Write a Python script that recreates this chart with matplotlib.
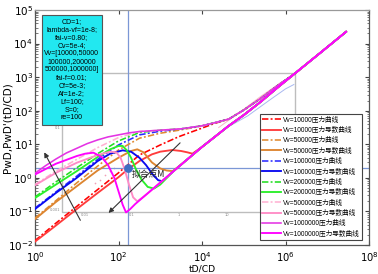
import numpy as np
import matplotlib
matplotlib.use('Agg')
import matplotlib.pyplot as plt
from matplotlib.patches import Rectangle
from matplotlib.font_manager import FontProperties
from matplotlib.ticker import FixedLocator, LogLocator, NullFormatter

# ---------------- data (log10 tD/CD , log10 value) ----------------
vv_labels = ['10000', '50000', '100000', '200000', '500000', '1000000']

late_p_lx = [2.5, 3.0, 3.5, 4.0, 4.3, 4.64, 5.0, 5.4, 5.8, 6.23, 6.8, 7.45]
late_p_ly = [1.38, 1.42, 1.46, 1.55, 1.64, 1.75, 2.02, 2.36, 2.74, 3.115, 3.69, 4.35]
late_d_lx = [2.4, 2.7, 3.0, 3.3, 3.6, 4.0, 4.64, 5.0, 5.4, 5.8, 6.23, 6.8, 7.45]
late_d_ly = [-0.78, -0.46, -0.14, 0.18, 0.5, 0.92, 1.55, 1.87, 2.26, 2.68, 3.115, 3.69, 4.35]

red_p_lx = [0, 0.5, 1.0, 1.5, 2.0, 2.5, 3.0, 3.45, 3.93, 4.3]
red_p_ly = [-1.87, -1.35, -0.85, -0.35, 0.15, 0.68, 0.98, 1.23, 1.45, 1.62]
red_d_lx = [0, 0.5, 1.0, 1.5, 2.0, 2.22, 2.5, 2.8, 3.0, 3.29, 3.5, 3.65, 3.77]
red_d_ly = [-1.9, -1.42, -0.93, -0.45, 0.02, 0.25, 0.5, 0.7, 0.78, 0.83, 0.8, 0.76, 0.72]

orange_p_lx = [0, 0.5, 1.0, 1.5, 2.0, 2.5, 3.0, 3.45, 3.8]
orange_p_ly = [-1.2, -0.68, -0.15, 0.35, 0.83, 1.18, 1.33, 1.42, 1.5]
orange_d_lx = [0, 0.5, 1.0, 1.5, 2.0, 2.3, 2.45, 2.6, 2.8, 3.0, 3.15, 3.3]
orange_d_ly = [-1.23, -0.72, -0.25, 0.22, 0.6, 0.8, 0.85, 0.76, 0.46, 0.28, 0.22, 0.2]

blue_p_lx = [0, 0.5, 1.0, 1.5, 2.0, 2.5, 3.0, 3.5]
blue_p_ly = [-0.9, -0.42, 0.05, 0.55, 0.98, 1.28, 1.39, 1.46]
blue_d_lx = [0, 0.5, 1.0, 1.5, 1.8, 2.1, 2.3, 2.5, 2.66, 2.82, 2.95, 3.05]
blue_d_ly = [-0.93, -0.45, 0.0, 0.5, 0.72, 0.82, 0.78, 0.6, 0.38, 0.1, -0.07, -0.1]

green_p_lx = [0, 0.5, 1.0, 1.5, 2.0, 2.5, 3.0]
green_p_ly = [-0.57, -0.12, 0.3, 0.72, 1.1, 1.35, 1.42]
green_d_lx = [0, 0.5, 1.0, 1.5, 1.8, 2.0, 2.1, 2.2, 2.3, 2.42, 2.55, 2.7, 2.85, 3.0]
green_d_ly = [-0.6, -0.2, 0.2, 0.62, 0.85, 0.95, 0.95, 0.82, 0.6, 0.25, -0.05, -0.27, -0.32, -0.2]

pink_p_lx = [0, 0.5, 1.0, 1.5, 2.0]
pink_p_ly = [-0.2, 0.2, 0.55, 0.9, 1.2]
pink_d_lx = [0, 0.5, 1.0, 1.5, 1.8, 1.95, 2.05, 2.15, 2.25, 2.35, 2.45, 2.6]
pink_d_ly = [-0.22, 0.15, 0.45, 0.68, 0.78, 0.76, 0.6, 0.25, -0.2, -0.58, -0.7, -0.56]

mag_p_lx = [0, 0.25, 0.5, 0.75, 1.0, 1.25, 1.5, 1.75, 2.0, 2.25]
mag_p_ly = [0.14, 0.36, 0.56, 0.74, 0.88, 1.02, 1.13, 1.22, 1.28, 1.34]
mag_d_lx = [0, 0.5, 1.0, 1.2, 1.4, 1.6, 1.75, 1.9, 2.0, 2.1, 2.18, 2.28]
mag_d_ly = [0.1, 0.42, 0.65, 0.72, 0.75, 0.62, 0.38, 0.0, -0.4, -0.8, -1.03, -0.93]

# faint curves of the overlaid field plot
faint_pink_lx = [4.4, 4.9, 5.4, 5.9, 6.15]
faint_pink_ly = [1.5, 1.95, 2.42, 2.85, 3.0]
faint_blue_lx = [4.6, 5.1, 5.6, 6.0, 6.2]
faint_blue_ly = [1.5, 1.85, 2.3, 2.65, 2.78]
faint_dots_lx = [1.43, 1.55, 1.67, 1.79, 1.9]
faint_dots_ly = [-0.15, -0.05, 0.1, 0.2, 0.28]
inset_frame_lx = [0.643, 0.643, 6.238, 6.238, 0.643]
inset_frame_ly = [1.6, -1.012, -1.012, 3.125, 3.125]
inset_xt_lx = [1.19, 2.31, 3.45, 4.6, 5.71]
inset_xt_txt = ['0.01', '0.1', '1', '10', '100']
inset_yt_ly = [1.49, -0.95]
inset_yt_txt = ['0.1', '0.001']

match_x, match_y = 166.0, 1.95

params_text = ("CD=1;\nlambda-vf=1e-8;\nfai-v=0.80;\nCv=5e-4;\nVv=[10000,50000\n"
               "100000,200000\n500000,1000000]\nfai-f=0.01;\nCf=5e-3;\nAf=1e-2;\n"
               "Lf=100;\nS=0;\nre=100")

# ---------------- figure ----------------
plt.rcParams['font.family'] = ['DejaVu Sans', 'Noto Sans CJK SC']
fig = plt.figure(figsize=(3.78, 2.74), dpi=100)
ax = fig.add_axes([35/378, 29/274, 334/378, 235/274])
ax.set_xscale('log'); ax.set_yscale('log')
ax.set_xlim(1, 1e8); ax.set_ylim(1e-2, 1e5)

def p10(a):
    return 10 ** np.asarray(a, dtype=float)

# background overlay elements
ax.plot(p10(inset_frame_lx), p10(inset_frame_ly), color='#bdbdbd', lw=1.0, zorder=1)
for lx, t in zip(inset_xt_lx, inset_xt_txt):
    ax.text(10**lx, 10**-1.06, t, fontsize=2.6, color='#888888', ha='center', va='top', zorder=1)
for ly, t in zip(inset_yt_ly, inset_yt_txt):
    ax.text(10**0.6, 10**ly, t, fontsize=2.6, color='#888888', ha='right', va='center', zorder=1)
ax.plot(p10(faint_pink_lx), p10(faint_pink_ly), color='#f6b6c6', lw=0.7, zorder=1)
ax.plot(p10(faint_blue_lx), p10(faint_blue_ly), color='#a8b8f0', lw=0.7, zorder=1)
ax.scatter(p10(faint_dots_lx), p10(faint_dots_ly), s=1.5, color='#f0a0b8', zorder=1, lw=0)

# match lines
ax.axvline(match_x, color='#7b97d6', lw=0.9, zorder=2)
ax.axhline(match_y, color='#7b97d6', lw=0.9, zorder=2)

def full(elx, ely, llx, lly):
    lx = list(elx); ly = list(ely)
    for a, b in zip(llx, lly):
        if a > elx[-1] + 0.05:
            lx.append(a); ly.append(b)
    return p10(lx), p10(ly)

dd = (0, (4, 1.4, 1.2, 1.4))
curves = [
    (red_p_lx, red_p_ly, red_d_lx, red_d_ly, '#ff0000', dd, '#ff3c3c'),
    (orange_p_lx, orange_p_ly, orange_d_lx, orange_d_ly, '#e08a30', dd, '#dd8530'),
    (blue_p_lx, blue_p_ly, blue_d_lx, blue_d_ly, '#2a2aff', dd, '#0a0af0'),
    (green_p_lx, green_p_ly, green_d_lx, green_d_ly, '#22dd22', dd, '#2bef2b'),
    (pink_p_lx, pink_p_ly, pink_d_lx, pink_d_ly, '#ffb2d2', dd, '#ff8cc6'),
    (mag_p_lx, mag_p_ly, mag_d_lx, mag_d_ly, '#e433e4', '-', '#ff00ff'),
]
z = 3
for (plx, ply, dlx, dly, pc, pls, dc), lab in zip(curves, vv_labels):
    x, y = full(plx, ply, late_p_lx, late_p_ly)
    ax.plot(x, y, color=pc, ls=pls, lw=1.15, label='Vv=%s压力曲线' % lab, zorder=z)
    x, y = full(dlx, dly, late_d_lx, late_d_ly)
    ax.plot(x, y, color=dc, ls='-', lw=1.35, label='Vv=%s压力导数曲线' % lab, zorder=z + 0.5)
    z += 1

# match point
ax.scatter([match_x], [match_y], s=40, color='#3f6fc2', zorder=20, lw=0)
ax.text(10**2.31, 10**0.09, '拟合点M', fontsize=6.3, color='#222222',
        family=['Noto Sans CJK SC'], ha='left', va='center', zorder=20)

# arrows
ax.annotate('', xy=(1.55, 6.8), xytext=(13.1, 0.046),
            arrowprops=dict(arrowstyle='-|>', color='#333333', lw=0.8,
                            mutation_scale=7), zorder=15)
ax.annotate('', xy=(51.7, 0.079), xytext=(3330, 12.6),
            arrowprops=dict(arrowstyle='-|>', color='#333333', lw=0.8,
                            mutation_scale=7), zorder=15)

# parameter box
ax.add_patch(Rectangle((0.021, 0.511), 0.179, 0.468, transform=ax.transAxes,
                       facecolor='#22e8f0', edgecolor='#555555', lw=0.8, zorder=25))
ax.text(0.1105, 0.745, params_text, transform=ax.transAxes, ha='center', va='center',
        fontsize=5.0, linespacing=1.2, family=['Liberation Sans'], zorder=26)

# axes styling
ax.xaxis.set_major_locator(FixedLocator([1e0, 1e2, 1e4, 1e6, 1e8]))
ax.xaxis.set_minor_locator(FixedLocator([]))
ax.yaxis.set_major_locator(LogLocator(base=10, numticks=20))
ax.yaxis.set_minor_locator(LogLocator(base=10, subs=np.arange(2, 10), numticks=20))
ax.yaxis.set_minor_formatter(NullFormatter())
ax.tick_params(which='both', direction='in', top=True, right=True,
               colors='#444444', labelcolor='black')
ax.tick_params(axis='y', labelsize=7.5, pad=1.5)
ax.tick_params(axis='x', labelsize=7.2, pad=4)
ax.tick_params(which='major', length=3, width=0.8)
ax.tick_params(which='minor', length=1.8, width=0.5)
for s in ax.spines.values():
    s.set_color('#555555'); s.set_linewidth(0.9)
ax.spines['top'].set_color('#999999')

ax.set_xlabel('tD/CD', fontsize=6.6, va='bottom')
ax.xaxis.set_label_coords(0.5, -0.122)
ax.set_ylabel("PwD,PwD'(tD/CD)", fontsize=7.5)
ax.yaxis.set_label_coords(-0.068, 0.5)

leg = ax.legend(loc='lower right', bbox_to_anchor=(0.978, 0.021), borderaxespad=0,
                prop=FontProperties(family=['Liberation Sans', 'Noto Sans CJK SC'], size=4.8),
                labelspacing=0.5, handlelength=2.8, handletextpad=0.3, borderpad=0.35,
                fancybox=False, framealpha=1, edgecolor='#444444')
leg.get_frame().set_linewidth(0.8)
leg.set_zorder(30)

fig.savefig('out.png', dpi=100)
